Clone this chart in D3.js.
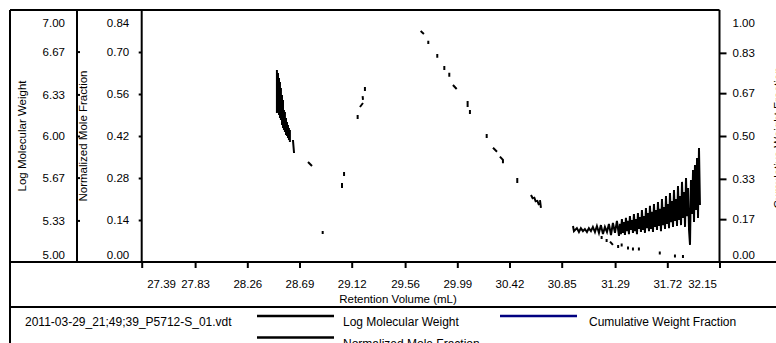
<!DOCTYPE html>
<html>
<head>
<meta charset="utf-8">
<script src="https://cdn.jsdelivr.net/npm/d3@7"></script>
<style>
  body { margin: 0; background: #fff; }
  svg { display: block; font-family: "Liberation Sans", Arial, sans-serif; }
</style>
</head>
<body>
<div id="chart"></div>
<script>
// tick values for each axis
const xTicks = [27.39, 27.83, 28.26, 28.69, 29.12, 29.56, 29.99, 30.42, 30.85, 31.29, 31.72, 32.15];
const mwTicks = [5.00, 5.33, 5.67, 6.00, 6.33, 6.67, 7.00];
const nmfTicks = [0.00, 0.14, 0.28, 0.42, 0.56, 0.70, 0.84];
const cwfTicks = [0.00, 0.17, 0.33, 0.50, 0.67, 0.83, 1.00];

// Log Molecular Weight (null = gap in the trace)
const mwVol = [
  28.504, 28.504, 28.513, 28.513, 28.521, 28.521, 28.529, 28.529, 28.537, 28.537,
  28.546, 28.546, 28.554, 28.554, 28.562, 28.562, 28.570, 28.570, 28.579, 28.579,
  28.587, 28.587, 28.595, 28.595, 28.603, 28.603, 28.611, 28.611, null,
  28.636, 28.645, null,
  28.760, 28.793, null,
  29.040, 29.040, null,
  29.057, 29.057, null,
  29.169, 29.169, null,
  29.188, 29.213, null,
  29.210, 29.213, null,
  29.229, 29.229, null,
  29.688, 29.715, null,
  29.751, 29.751, null,
  29.825, 29.825, null,
  29.883, 29.883, null,
  29.924, 29.924, null,
  29.954, 29.985, null,
  30.075, 30.075, null,
  30.094, 30.094, null,
  30.232, 30.232, null,
  30.284, 30.317, null,
  30.341, 30.366, 30.366, null,
  30.484, 30.484, null,
  30.597, 30.614, null,
  30.622, 30.638, null,
  30.647, 30.663, null,
  30.671, 30.679
];
const mwVal = [
  6.524, 6.183, 6.500, 6.190, 6.460, 6.167, 6.429, 6.143, 6.381, 6.127,
  6.325, 6.087, 6.286, 6.063, 6.206, 6.048, 6.190, 6.032, 6.143, 6.008,
  6.111, 6.000, 6.087, 5.984, 6.063, 5.968, 6.048, 5.952, null,
  5.968, 5.865, null,
  5.794, 5.762, null,
  5.627, 5.587, null,
  5.714, 5.683, null,
  6.167, 6.135, null,
  6.230, 6.262, null,
  6.317, 6.286, null,
  6.389, 6.357, null,
  6.833, 6.810, null,
  6.756, 6.730, null,
  6.651, 6.621, null,
  6.556, 6.524, null,
  6.502, 6.471, null,
  6.405, 6.373, null,
  6.278, 6.230, null,
  6.206, 6.175, null,
  6.016, 5.984, null,
  5.907, 5.875, null,
  5.836, 5.810, 5.783, null,
  5.667, 5.627, null,
  5.532, 5.500, null,
  5.516, 5.476, null,
  5.492, 5.452, null,
  5.492, 5.429
];

// Normalized Mole Fraction
const nmfVol = [
  28.881, 28.881, null,
  30.943, 30.951, 30.975, 30.992, 31.008, 31.025, 31.041, 31.058, 31.074, 31.091,
  31.107, 31.124, 31.140, 31.157, 31.173, 31.190, 31.206, 31.223, 31.239, 31.256,
  31.272, 31.289, 31.305, 31.322,
  31.330, 31.338, 31.346, 31.355, 31.363, 31.371, 31.379, 31.388, 31.396, 31.404,
  31.412, 31.421, 31.429, 31.437, 31.445, 31.454, 31.462, 31.470, 31.478, 31.487,
  31.495, 31.503, 31.511, 31.520, 31.528, 31.536, 31.544, 31.553, 31.561, 31.569,
  31.577, 31.586, 31.594, 31.602, 31.610, 31.619, 31.627, 31.635, 31.643, 31.652,
  31.660, 31.668, 31.676, 31.685, 31.693, 31.701, 31.709, 31.718, 31.726, 31.734,
  31.742, 31.751, 31.759, 31.767, 31.775, 31.784, 31.792, 31.800, 31.808, 31.817,
  31.825, 31.833, 31.841, 31.850, 31.858, 31.866, 31.874, 31.883, 31.891, 31.899,
  31.907, 31.915, 31.924, 31.932, 31.940, 31.948, 31.957, 31.965, 31.973, 31.981,
  31.989, null,
  31.179, 31.179, null,
  31.220, 31.220, null,
  31.248, 31.272, null,
  31.315, 31.315, null,
  31.344, 31.344, null,
  31.396, 31.396, null,
  31.437, 31.437, null,
  31.486, 31.486, null,
  31.658, 31.658, null,
  31.783, 31.783, null,
  31.849, 31.849
];
const nmfVal = [
  0.103, 0.093, null,
  0.120, 0.103, 0.113, 0.100, 0.113, 0.103, 0.110, 0.100, 0.113, 0.103,
  0.117, 0.100, 0.120, 0.097, 0.123, 0.093, 0.117, 0.100, 0.127, 0.090,
  0.130, 0.097, 0.137, 0.087,
  0.127, 0.093, 0.143, 0.097, 0.133, 0.090, 0.147, 0.103, 0.137, 0.093,
  0.153, 0.107, 0.140, 0.097, 0.160, 0.103, 0.143, 0.093, 0.163, 0.110,
  0.150, 0.100, 0.173, 0.107, 0.153, 0.097, 0.180, 0.113, 0.163, 0.103,
  0.187, 0.110, 0.167, 0.100, 0.193, 0.117, 0.173, 0.107, 0.200, 0.120,
  0.177, 0.103, 0.210, 0.123, 0.183, 0.110, 0.220, 0.127, 0.193, 0.113,
  0.230, 0.133, 0.203, 0.117, 0.240, 0.137, 0.210, 0.120, 0.253, 0.140,
  0.220, 0.123, 0.267, 0.147, 0.233, 0.117, 0.280, 0.153, 0.247, 0.107,
  0.057, 0.273, 0.160, 0.307, 0.133, 0.323, 0.173, 0.347, 0.147, 0.380,
  0.190, null,
  0.087, 0.077, null,
  0.077, 0.067, null,
  0.068, 0.057, null,
  0.057, 0.047, null,
  0.062, 0.052, null,
  0.052, 0.042, null,
  0.048, 0.038, null,
  0.048, 0.038, null,
  0.035, 0.025, null,
  0.025, 0.015, null,
  0.023, 0.013
];

const fileName = "2011-03-29_21;49;39_P5712-S_01.vdt";
const legendItems = [
  { name: "Log Molecular Weight", color: "#000000", col: 0, row: 0 },
  { name: "Cumulative Weight Fraction", color: "#000080", col: 1, row: 0 },
  { name: "Normalized Mole Fraction", color: "#000000", col: 0, row: 1 }
];

// layout
var W = 776, H = 343;
var frameL = 10, frameT = 10, frameB = 262, axis1 = 77,
    plotL = 141.7, plotR = 719.5, legendTop = 307, frameR = 786;
var fontSize = 11.5;
var fontFam = "'Liberation Sans', Arial, sans-serif";

var svg = d3.select("#chart").append("svg")
  .attr("width", W).attr("height", H)
  .style("font-size", fontSize + "px");

var x = d3.scaleLinear().domain([27.39, 32.15]).range([plotL, plotR]);
var yMw = d3.scaleLinear().domain([5, 7]).range([frameB, frameT]);
var yNmf = d3.scaleLinear().domain([0, 0.84]).range([frameB, frameT]);
var yCwf = d3.scaleLinear().domain([0, 1]).range([frameB, frameT]);

// frame lines
var frame = [
  [frameL, frameT, plotR, frameT],
  [frameL, frameT, frameL, H + 5],
  [axis1, frameT, axis1, frameB],
  [plotL, frameT, plotL, frameB],
  [plotR, frameT, plotR, frameB],
  [frameL, frameB, frameR, frameB],
  [frameL, legendTop, frameR, legendTop]
];
svg.append("g").selectAll("line").data(frame).enter().append("line")
  .attr("x1", d => d[0]).attr("y1", d => d[1])
  .attr("x2", d => d[2]).attr("y2", d => d[3])
  .attr("stroke", "#000").attr("stroke-width", 2);

// y axes helper: drop the end ticks and pull end labels inside the frame
function fixY(g, nTicks) {
  g.select(".domain").remove();
  g.selectAll(".tick").each(function (d, i) {
    var t = d3.select(this);
    if (i === 0 || i === nTicks - 1) t.select("line").remove();
    if (i === 0) t.select("text").attr("dy", "-0.28em");
    if (i === nTicks - 1) t.select("text").attr("dy", "1.45em");
  });
  g.selectAll("text").attr("fill", "#000").style("font-size", fontSize + "px")
    .style("font-family", fontFam);
  g.selectAll("line").attr("stroke", "#000").attr("stroke-width", 2);
}

var gMw = svg.append("g").attr("transform", "translate(" + axis1 + ",0)")
  .call(d3.axisLeft(yMw).tickValues(mwTicks).tickSize(-3).tickPadding(12).tickFormat(d3.format(".2f")));
fixY(gMw, mwTicks.length);

var gNmf = svg.append("g").attr("transform", "translate(" + plotL + ",0)")
  .call(d3.axisLeft(yNmf).tickValues(nmfTicks).tickSize(3).tickPadding(9.5).tickFormat(d3.format(".2f")));
fixY(gNmf, nmfTicks.length);

var gCwf = svg.append("g").attr("transform", "translate(" + plotR + ",0)")
  .call(d3.axisRight(yCwf).tickValues(cwfTicks).tickSize(7).tickPadding(6).tickFormat(d3.format(".2f")));
fixY(gCwf, cwfTicks.length);

// x axis
var gx = svg.append("g").attr("transform", "translate(0," + frameB + ")")
  .call(d3.axisBottom(x).tickValues(xTicks).tickSize(6).tickPadding(12).tickFormat(d3.format(".2f")));
gx.select(".domain").remove();
gx.selectAll("line").attr("stroke", "#000").attr("stroke-width", 2);
gx.selectAll("text").attr("fill", "#000").style("font-size", fontSize + "px")
  .style("font-family", fontFam);
gx.selectAll(".tick").each(function (d, i) {
  var t = d3.select(this).select("text");
  if (i === 0) t.attr("text-anchor", "start").attr("x", 5);
  if (i === xTicks.length - 1) t.attr("text-anchor", "end").attr("x", -3);
});

// axis titles
svg.append("text").attr("x", (frameL + frameR) / 2).attr("y", 303)
  .attr("text-anchor", "middle").text("Retention Volume (mL)");
svg.append("text").attr("transform", "translate(26,136) rotate(-90)")
  .attr("text-anchor", "middle").text("Log Molecular Weight");
svg.append("text").attr("transform", "translate(87,136) rotate(-90)")
  .attr("text-anchor", "middle").text("Normalized Mole Fraction");
svg.append("text").attr("transform", "translate(782,138) rotate(-90)")
  .attr("text-anchor", "middle").text("Cumulative Weight Fraction");

// data traces
svg.append("clipPath").attr("id", "plotclip").append("rect")
  .attr("x", plotL).attr("y", frameT).attr("width", plotR - plotL).attr("height", frameB - frameT);

function trace(vol, val, yScale) {
  var pts = vol.map((v, i) => [v, val[i]]);
  var line = d3.line()
    .defined(d => d[0] != null && d[1] != null)
    .x(d => x(d[0])).y(d => yScale(d[1]));
  svg.append("path").datum(pts)
    .attr("clip-path", "url(#plotclip)")
    .attr("fill", "none").attr("stroke", "#000").attr("stroke-width", 2)
    .attr("d", line);
}
trace(mwVol, mwVal, yMw);
trace(nmfVol, nmfVal, yNmf);

// legend
var legend = svg.append("g").style("font-size", "12px");
legend.append("text").attr("x", 25).attr("y", 326).text(fileName);
var lg = legend.selectAll("g").data(legendItems).enter().append("g")
  .attr("transform", d => "translate(" + (d.col === 0 ? 257 : 500) + "," + (316 + d.row * 21.5) + ")");
lg.append("line").attr("x1", 0).attr("x2", 77).attr("y1", 0).attr("y2", 0)
  .attr("stroke", d => d.color).attr("stroke-width", 2.5);
lg.append("text").attr("x", d => d.col === 0 ? 86 : 89).attr("y", 10).text(d => d.name);
</script>
</body>
</html>
